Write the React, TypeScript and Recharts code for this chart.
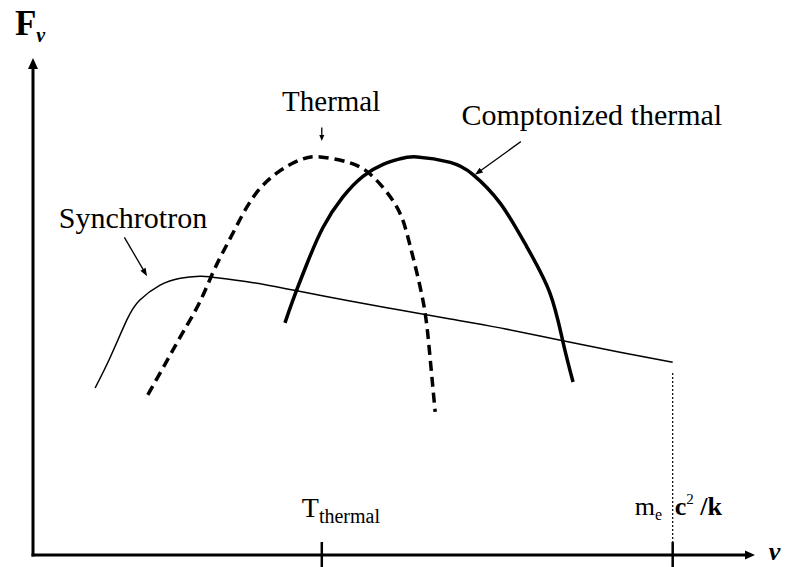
import { LineChart, Line, XAxis, YAxis, ReferenceLine, ReferenceDot } from "recharts";

// log frequency (arbitrary units 0-10) against flux (arbitrary units 0-10)
const synchrotronX = [0.86, 1.07, 1.3, 1.48, 1.76, 2.04, 2.31, 2.49, 3.01, 3.6, 4.39, 5.08, 5.78, 6.47, 7.34, 8.13, 8.86];
const synchrotronY = [3.36, 3.98, 4.73, 5.13, 5.43, 5.57, 5.61, 5.59, 5.49, 5.33, 5.11, 4.93, 4.75, 4.57, 4.31, 4.08, 3.88];

const thermalX = [1.59, 1.86, 2.08, 2.31, 2.52, 2.77, 3.05, 3.38, 3.7, 3.98, 4.39, 4.71, 5.04, 5.22, 5.4, 5.49, 5.57];
const thermalY = [3.22, 3.92, 4.49, 5.09, 5.77, 6.48, 7.2, 7.69, 7.95, 8.01, 7.89, 7.61, 7.0, 6.24, 5.13, 4.12, 2.88];

const comptonX = [3.49, 3.6, 3.8, 4.02, 4.29, 4.57, 4.85, 5.08, 5.32, 5.78, 6.09, 6.47, 6.84, 7.16, 7.34, 7.48];
const comptonY = [4.67, 5.13, 5.88, 6.6, 7.2, 7.62, 7.86, 7.97, 8.01, 7.9, 7.66, 7.08, 6.2, 5.27, 4.29, 3.48];

const tickValues = [4.0, 8.86];
const cutoffLevel = 3.66; // top of the dotted line at m_e c^2/k

const toPoints = (xs: number[], ys: number[]) => xs.map((x, i) => ({ x, y: ys[i] }));

const FONT = "'Liberation Serif', 'Times New Roman', serif";

const arrowShape = (head: number, width: number, sw: number) => (props: any) => {
  const { x1, y1, x2, y2 } = props;
  const ang = Math.atan2(y2 - y1, x2 - x1);
  const bx = x2 - head * Math.cos(ang);
  const by = y2 - head * Math.sin(ang);
  const px = (-Math.sin(ang) * width) / 2;
  const py = (Math.cos(ang) * width) / 2;
  return (
    <g>
      <line x1={x1} y1={y1} x2={bx} y2={by} stroke="#000" strokeWidth={sw} strokeLinecap="square" />
      <polygon points={`${x2},${y2} ${bx + px},${by + py} ${bx - px},${by - py}`} fill="#000" />
    </g>
  );
};

const renderTick = (props: any) => {
  const { x, y, payload } = props;
  const tick = <line x1={x} y1={y - 13} x2={x} y2={y + 14} stroke="#000" strokeWidth={2.5} />;
  if (payload.value === tickValues[0]) {
    return (
      <g>
        {tick}
        <text x={x - 20} y={y - 38} fontFamily={FONT} fontSize={28} fill="#000">
          T
          <tspan fontSize={20} dy={6}>thermal</tspan>
        </text>
      </g>
    );
  }
  return (
    <g>
      {tick}
      <text x={x - 38} y={y - 40} fontFamily={FONT} fontSize={26} fill="#000">
        m
        <tspan fontSize={16} dy={5}>e</tspan>
      </text>
      <text x={x + 2} y={y - 40} fontFamily={FONT} fontSize={26} fontWeight={700} fill="#000">
        c
        <tspan fontSize={15} fontWeight={400} dy={-11}>2</tspan>
        <tspan dy={11}> /k</tspan>
      </text>
    </g>
  );
};

const label = (text: string, size: number) => (p: any) => (
  <text x={p.cx} y={p.cy} textAnchor="middle" fontFamily={FONT} fontSize={size} fill="#000">
    {text}
  </text>
);

export default function App() {
  return (
    <div style={{ position: "absolute", left: 0, top: 0, background: "#fff" }}>
      <LineChart width={792} height={567} margin={{ top: 58, right: 37, bottom: 0, left: 33 }}>
        <XAxis
          dataKey="x"
          type="number"
          domain={[0, 10]}
          ticks={tickValues}
          interval={0}
          axisLine={false}
          tickLine={false}
          tickSize={0}
          tickMargin={0}
          height={12}
          tick={renderTick}
        />
        <YAxis type="number" domain={[0, 10]} hide />

        <ReferenceLine segment={[{ x: 0, y: 0 }, { x: 10, y: 0 }]} shape={arrowShape(10, 9, 3)} />
        <ReferenceLine segment={[{ x: 0, y: 0 }, { x: 0, y: 10 }]} shape={arrowShape(11, 10, 3)} />
        <ReferenceLine
          segment={[{ x: tickValues[1], y: cutoffLevel }, { x: tickValues[1], y: 0 }]}
          stroke="#000"
          strokeWidth={1.2}
          strokeDasharray="2 2"
        />

        <Line data={toPoints(synchrotronX, synchrotronY)} dataKey="y" type="natural" stroke="#000" strokeWidth={1.5} dot={false} activeDot={false} isAnimationActive={false} />
        <Line data={toPoints(thermalX, thermalY)} dataKey="y" type="natural" stroke="#000" strokeWidth={3.5} strokeDasharray="10 6" dot={false} activeDot={false} isAnimationActive={false} />
        <Line data={toPoints(comptonX, comptonY)} dataKey="y" type="natural" stroke="#000" strokeWidth={3.5} dot={false} activeDot={false} isAnimationActive={false} />

        {/* annotation arrows */}
        <ReferenceLine segment={[{ x: 4.0, y: 8.59 }, { x: 4.0, y: 8.33 }]} shape={arrowShape(6, 5, 1.3)} />
        <ReferenceLine segment={[{ x: 1.27, y: 6.38 }, { x: 1.58, y: 5.61 }]} shape={arrowShape(8, 6, 1.3)} />
        <ReferenceLine segment={[{ x: 6.75, y: 8.31 }, { x: 6.12, y: 7.65 }]} shape={arrowShape(8, 6, 1.3)} />

        <ReferenceDot x={4.13} y={8.93} ifOverflow="visible" shape={label("Thermal", 29)} />
        <ReferenceDot x={7.74} y={8.65} ifOverflow="visible" shape={label("Comptonized thermal", 30)} />
        <ReferenceDot x={1.385} y={6.58} ifOverflow="visible" shape={label("Synchrotron", 30)} />

        <ReferenceDot
          x={-0.25}
          y={10.46}
          ifOverflow="visible"
          shape={(p: any) => (
            <text x={p.cx} y={p.cy} fontFamily={FONT} fill="#000">
              <tspan fontSize={35} fontWeight={700}>F</tspan>
              <tspan fontSize={20} fontWeight={700} fontStyle="italic" dy={7}>ν</tspan>
            </text>
          )}
        />
        <ReferenceDot
          x={10.19}
          y={-0.1}
          ifOverflow="visible"
          shape={(p: any) => (
            <text x={p.cx} y={p.cy} fontFamily={FONT} fontSize={26} fontWeight={700} fontStyle="italic" fill="#000">
              ν
            </text>
          )}
        />
      </LineChart>
    </div>
  );
}
